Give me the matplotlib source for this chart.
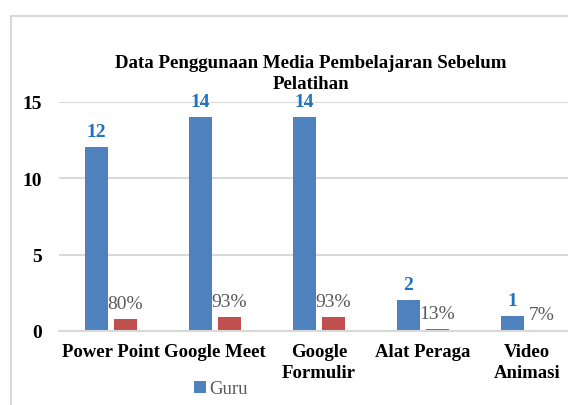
import matplotlib.pyplot as plt
import numpy as np
from matplotlib.lines import Line2D

categories = ["Power Point", "Google Meet", "Google\nFormulir", "Alat Peraga", "Video\nAnimasi"]
guru = [12, 14, 14, 2, 1]
persen = [0.80, 0.93, 0.93, 0.13, 0.07]

plt.rcParams["font.family"] = ["Liberation Serif", "DejaVu Serif"]

W, H = 568, 406
fig = plt.figure(figsize=(W / 100, H / 100), dpi=100)


def px(x0, y0, x1, y1):
    # pixel box (top-left origin) -> figure fraction rect
    return [x0 / W, 1 - y1 / H, (x1 - x0) / W, (y1 - y0) / H]


ax = fig.add_axes(px(59, 102.5, 568, 332))

x = np.arange(len(categories))
bw = 0.22
b1 = ax.bar(x - 0.14, guru, bw, color="#4F81BD", label="Guru")
b2 = ax.bar(x + 0.14, persen, bw, color="#C0504D")

for rect, v in zip(b1, guru):
    ax.annotate(str(v), (rect.get_x() + rect.get_width() / 2, v), xytext=(0, 5),
                textcoords="offset points", ha="center", va="bottom",
                fontsize=14, fontweight="bold", color="#1F72C0")
for rect, v in zip(b2, persen):
    ax.annotate(f"{v:.0%}", (rect.get_x() + rect.get_width() / 2, v), xytext=(0, 5),
                textcoords="offset points", ha="center", va="bottom",
                fontsize=14, color="#595959")

ax.set_xlim(-0.5, -0.5 + (568 - 59) / 104)
ax.set_ylim(0, 15)
ax.set_yticks([0, 5, 10, 15])
ax.set_xticks(x)
ax.set_xticklabels(categories, fontsize=13.5, fontweight="bold", linespacing=1.25)
for lab in ax.get_yticklabels():
    lab.set_fontsize(14)
    lab.set_fontweight("bold")
ax.tick_params(length=0, pad=12)
ax.tick_params(axis="x", pad=9)
ax.grid(axis="y", color="#D9D9D9", linewidth=1.5)
ax.set_axisbelow(True)
for s in ["top", "right", "left"]:
    ax.spines[s].set_visible(False)
ax.spines["bottom"].set_color("#D9D9D9")
ax.spines["bottom"].set_linewidth(1.5)

fig.text(311 / W, 1 - 74 / H, "Data Penggunaan Media Pembelajaran Sebelum\nPelatihan",
         ha="center", va="center", fontsize=13.6, fontweight="bold", linespacing=1.25)

# chart frame (cut at right and bottom)
fig.add_artist(Line2D([11 / W, 11 / W], [0, 1 - 17 / H], color="#D9D9D9", lw=1.5,
                      transform=fig.transFigure))
fig.add_artist(Line2D([11 / W, 1], [1 - 17 / H, 1 - 17 / H], color="#D9D9D9", lw=1.5,
                      transform=fig.transFigure))

fig.legend(handles=[b1], labels=["Guru"], loc="center", bbox_to_anchor=(221 / W, 1 - 390 / H),
           frameon=False, prop={"size": 13.5}, handlelength=0.6, handleheight=0.6,
           handletextpad=0.2, labelcolor="#595959")

fig.savefig("out.png", dpi=100)
